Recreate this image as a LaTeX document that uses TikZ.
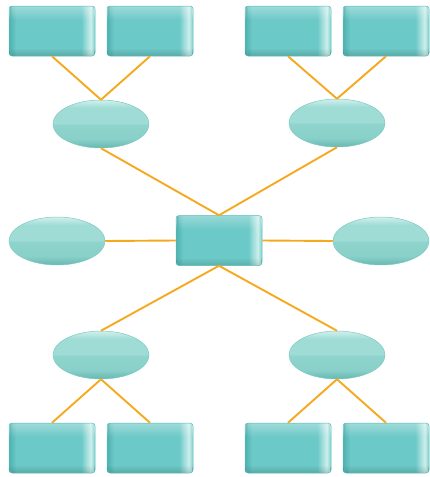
\documentclass[tikz,border=0pt]{standalone}
\usetikzlibrary{shapes.geometric}
\definecolor{rectmid}{HTML}{6BC9C7}
\definecolor{rectdark}{HTML}{4FB1AF}
\definecolor{rectlight}{HTML}{CDEFEC}
\definecolor{rectrim}{HTML}{7CCFCC}
\definecolor{rectedge}{HTML}{5BBDBA}
\definecolor{elltop}{HTML}{D2F0EC}
\definecolor{ellup}{HTML}{A0DCD6}
\definecolor{ellmid}{HTML}{8FD4CD}
\definecolor{elllow}{HTML}{88D0C9}
\definecolor{ellbot}{HTML}{66B8B0}
\definecolor{elledge}{HTML}{7CC9C1}
\definecolor{link}{HTML}{F5A91E}
% custom shadings: only the central 25bp..75bp is mapped onto the path
\pgfdeclarehorizontalshading{rectsh}{100bp}{color(0bp)=(rectdark); color(25bp)=(rectdark); color(29bp)=(rectmid); color(67bp)=(rectmid); color(72.5bp)=(rectlight); color(75bp)=(rectrim); color(100bp)=(rectrim)}
\pgfdeclareverticalshading{ellsh}{100bp}{color(0bp)=(ellbot); color(25bp)=(ellbot); color(34bp)=(elllow); color(49.5bp)=(ellmid); color(50.5bp)=(ellup); color(67bp)=(ellup); color(75bp)=(elltop); color(100bp)=(elltop)}
\tikzset{
  boxnode/.style={rectangle, rounded corners=3pt, minimum width=86pt, minimum height=50pt, inner sep=0pt,
    shading=rectsh, draw=rectedge, line width=0.5pt,
    path picture={
      \foreach \i in {0,...,13}{
        \fill[white, fill opacity={0.32*(1-\i/14)}]
          ([yshift=-\i pt]path picture bounding box.north west) rectangle ([yshift=-\i pt-1pt]path picture bounding box.north east);
      }
      \foreach \i in {0,...,6}{
        \fill[black, fill opacity={0.12*(1-\i/7)}]
          ([yshift=\i pt]path picture bounding box.south west) rectangle ([yshift=\i pt+1pt]path picture bounding box.south east);
      }
    }},
  ellnode/.style={ellipse, minimum width=96pt, minimum height=48pt, inner sep=0pt,
    shading=ellsh, draw=elledge, line width=0.5pt},
  linkline/.style={draw=link, line width=1.9pt}
}
\begin{document}
\begin{tikzpicture}[x=1pt,y=-1pt]
\useasboundingbox (0,0) rectangle (429,477);
% top rectangles
\node[boxnode] (t1) at (52,31) {};
\node[boxnode] (t2) at (150,31) {};
\node[boxnode] (t3) at (288,31) {};
\node[boxnode] (t4) at (386,31) {};
% top ellipses
\node[ellnode] (e1) at (101,124) {};
\node[ellnode] (e2) at (337,123) {};
% middle row
\node[ellnode] (ml) at (57,241) {};
\node[boxnode] (c) at (219,240.5) {};
\node[ellnode] (mr) at (381,241) {};
% bottom ellipses
\node[ellnode] (e3) at (101,355) {};
\node[ellnode] (e4) at (337,355) {};
% bottom rectangles
\node[boxnode] (b1) at (52,448) {};
\node[boxnode] (b2) at (150,448) {};
\node[boxnode] (b3) at (288,448) {};
\node[boxnode] (b4) at (386,448) {};
% connectors
\draw[linkline] (t1.south) -- (e1.north);
\draw[linkline] (t2.south) -- (e1.north);
\draw[linkline] (t3.south) -- (e2.north);
\draw[linkline] (t4.south) -- (e2.north);
\draw[linkline] (e1.south) -- (c.north);
\draw[linkline] (e2.south) -- (c.north);
\draw[linkline] (ml.east) -- (c.west);
\draw[linkline] (c.east) -- (mr.west);
\draw[linkline] (c.south) -- (e3.north);
\draw[linkline] (c.south) -- (e4.north);
\draw[linkline] (e3.south) -- (b1.north);
\draw[linkline] (e3.south) -- (b2.north);
\draw[linkline] (e4.south) -- (b3.north);
\draw[linkline] (e4.south) -- (b4.north);
\end{tikzpicture}
\end{document}
